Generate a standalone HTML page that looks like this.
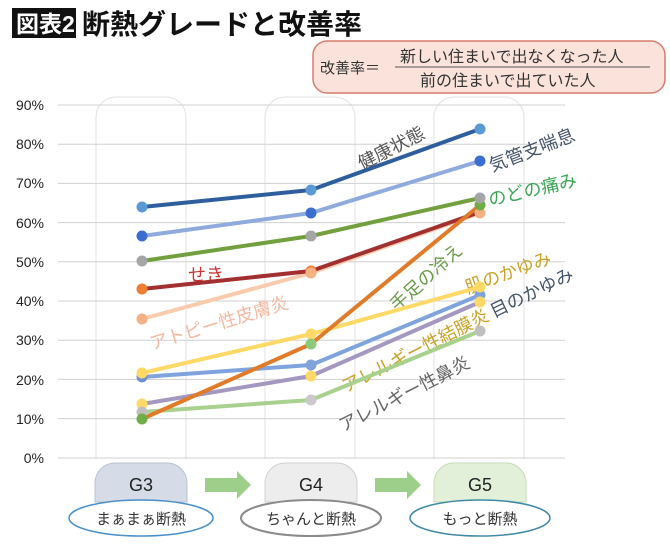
<!DOCTYPE html>
<html><head><meta charset="utf-8"><style>
body{margin:0;background:#fff;}
svg text{font-family:"Liberation Sans","Noto Sans CJK JP",sans-serif;}
</style></head><body>
<svg width="670" height="540" viewBox="0 0 670 540" xmlns="http://www.w3.org/2000/svg">
<rect width="670" height="540" fill="#fff"/>
<rect x="12" y="8" width="64" height="30" fill="#111"/>
<text x="16" y="32" font-size="23" fill="#fff" font-weight="bold">図表2</text>
<text x="82" y="34" font-size="28" fill="#111" font-weight="bold">断熱グレードと改善率</text>
<rect x="313" y="41" width="352" height="52" rx="14" fill="#fbe3dc" stroke="#d77b6b" stroke-width="1.5"/>
<text x="320" y="73" font-size="15" fill="#333">改善率＝</text>
<line x1="395" y1="67" x2="650" y2="67" stroke="#555" stroke-width="1"/>
<text x="400" y="62" font-size="16" fill="#333">新しい住まいで出なくなった人</text>
<text x="420" y="86" font-size="16" fill="#333">前の住まいで出ていた人</text>
<g fill="none" stroke="#e2e2e2" stroke-width="1">
<path d="M96 459 V117 a20 20 0 0 1 20 -20 H166 a20 20 0 0 1 20 20 V459"/>
<path d="M265 459 V117 a20 20 0 0 1 20 -20 H335 a20 20 0 0 1 20 20 V459"/>
<path d="M434 459 V117 a20 20 0 0 1 20 -20 H504 a20 20 0 0 1 20 20 V459"/>
</g>
<g stroke="#d0d0d0" stroke-width="1">
<line x1="58" x2="565" y1="105" y2="105"/><line x1="58" x2="565" y1="144.2" y2="144.2"/>
<line x1="58" x2="565" y1="183.4" y2="183.4"/><line x1="58" x2="565" y1="222.6" y2="222.6"/>
<line x1="58" x2="565" y1="261.8" y2="261.8"/><line x1="58" x2="565" y1="301" y2="301"/>
<line x1="58" x2="565" y1="340.2" y2="340.2"/><line x1="58" x2="565" y1="379.4" y2="379.4"/>
<line x1="58" x2="565" y1="418.6" y2="418.6"/><line x1="58" x2="565" y1="458" y2="458"/>
</g>
<g font-size="14" fill="#222" text-anchor="end">
<text x="44" y="110">90%</text><text x="44" y="149">80%</text><text x="44" y="188">70%</text>
<text x="44" y="228">60%</text><text x="44" y="267">50%</text><text x="44" y="306">40%</text>
<text x="44" y="345">30%</text><text x="44" y="385">20%</text><text x="44" y="424">10%</text>
<text x="44" y="463">0%</text>
</g>
<g font-size="18">
<text transform="translate(362,170) rotate(-27)" fill="#555">健康状態</text>
<text transform="translate(492,172) rotate(-21)" fill="#44546a">気管支喘息</text>
<text transform="translate(490,206) rotate(-13)" fill="#3aa655">のどの痛み</text>
<text x="188" y="281" fill="#d03030">せき</text>
<text transform="translate(152,350) rotate(-17)" fill="#f4b8a0">アトピー性皮膚炎</text>
<text transform="translate(397,312) rotate(-42)" fill="#6a9b4a">手足の冷え</text>
<text transform="translate(468,294) rotate(-20)" fill="#c9a227">肌のかゆみ</text>
<text transform="translate(494,318) rotate(-26)" fill="#44546a">目のかゆみ</text>
<text transform="translate(346,393) rotate(-27)" fill="#c9a227">アレルギー性結膜炎</text>
<text transform="translate(343,432) rotate(-27)" fill="#666">アレルギー性鼻炎</text>
</g>
<g fill="none" stroke-width="4" stroke-linejoin="round">
<polyline points="142,412 311,400 480,331" stroke="#a9d18e"/>
<polyline points="142,404 311,376 480,302" stroke="#a497c0"/>
<polyline points="142,377 311,365 480,295" stroke="#7fa3dc"/>
<polyline points="142,373 311,334 480,287" stroke="#ffd966"/>
<polyline points="142,319 311,273 480,213" stroke="#f8cbad"/>
<polyline points="142,289 311,271 480,212" stroke="#a33030"/>
<polyline points="142,261 311,236 480,198" stroke="#72a03f"/>
<polyline points="142,236 311,213 480,161" stroke="#8faadc"/>
<polyline points="142,207 311,190 480,129" stroke="#2e5e9e"/>
<polyline points="142,419 311,344 480,205" stroke="#e07b2a"/>
</g>
<g>
<circle cx="142" cy="207" r="5.5" fill="#5b9bd5"/><circle cx="311" cy="190" r="5.5" fill="#5b9bd5"/><circle cx="480" cy="129" r="5.5" fill="#5b9bd5"/>
<circle cx="142" cy="236" r="5.5" fill="#3a6fd1"/><circle cx="311" cy="213" r="5.5" fill="#3a6fd1"/><circle cx="480" cy="161" r="5.5" fill="#3a6fd1"/>
<circle cx="142" cy="261" r="5.5" fill="#a5a5a5"/><circle cx="311" cy="236" r="5.5" fill="#a5a5a5"/>
<circle cx="142" cy="289" r="5.5" fill="#ed7d31"/><circle cx="311" cy="271" r="5.5" fill="#ed7d31"/>
<circle cx="142" cy="319" r="5.5" fill="#f4b183"/><circle cx="311" cy="273" r="5.5" fill="#f4b183"/><circle cx="480" cy="213" r="5.5" fill="#f4b183"/>
<circle cx="480" cy="205" r="5.5" fill="#70ad47"/><circle cx="480" cy="198" r="5.5" fill="#a5a5a5"/>
<circle cx="142" cy="377" r="5.5" fill="#6f8fd0"/><circle cx="311" cy="365" r="5.5" fill="#7fa3dc"/><circle cx="480" cy="295" r="5.5" fill="#7fa3dc"/>
<circle cx="142" cy="373" r="5.5" fill="#ffd966"/><circle cx="311" cy="334" r="5.5" fill="#ffd966"/><circle cx="480" cy="287" r="5.5" fill="#ffd966"/>
<circle cx="142" cy="404" r="5.5" fill="#ffd966"/><circle cx="311" cy="376" r="5.5" fill="#ffd966"/><circle cx="480" cy="302" r="5.5" fill="#ffd966"/>
<circle cx="142" cy="412" r="5.5" fill="#bfbfbf"/><circle cx="311" cy="400" r="5.5" fill="#c9c9c9"/><circle cx="480" cy="331" r="5.5" fill="#bfbfbf"/>
<circle cx="142" cy="419" r="5.5" fill="#70ad47"/><circle cx="311" cy="344" r="5.5" fill="#8cc97a"/>
</g>
<path d="M115 463 H167 a20 20 0 0 1 20 20 V502 H95 V483 a20 20 0 0 1 20 -20z" fill="#d5dce8" stroke="#b8c2d4"/>
<path d="M285 463 H337 a20 20 0 0 1 20 20 V502 H265 V483 a20 20 0 0 1 20 -20z" fill="#ededed" stroke="#d0d0d0"/>
<path d="M454 463 H506 a20 20 0 0 1 20 20 V502 H434 V483 a20 20 0 0 1 20 -20z" fill="#e2efd9" stroke="#c5dcb4"/>
<g font-size="18" fill="#222" text-anchor="middle">
<text x="141" y="491">G3</text><text x="311" y="491">G4</text><text x="480" y="491">G5</text>
</g>
<path d="M205 478 H237 V471 L251 485 L237 499 V492 H205z" fill="#9dcf8b"/>
<path d="M375 478 H407 V471 L421 485 L407 499 V492 H375z" fill="#9dcf8b"/>
<ellipse cx="141" cy="518" rx="72" ry="18" fill="#fff" stroke="#4a8fc8" stroke-width="1.5"/>
<ellipse cx="311" cy="518" rx="70" ry="18" fill="#fff" stroke="#8a8a8a" stroke-width="2"/>
<ellipse cx="480" cy="518" rx="70" ry="18" fill="#fff" stroke="#3f8aa8" stroke-width="1.5"/>
<g font-size="15" fill="#333" text-anchor="middle">
<text x="141" y="524">まぁまぁ断熱</text><text x="311" y="524">ちゃんと断熱</text><text x="480" y="524">もっと断熱</text>
</g>
</svg>
</body></html>
